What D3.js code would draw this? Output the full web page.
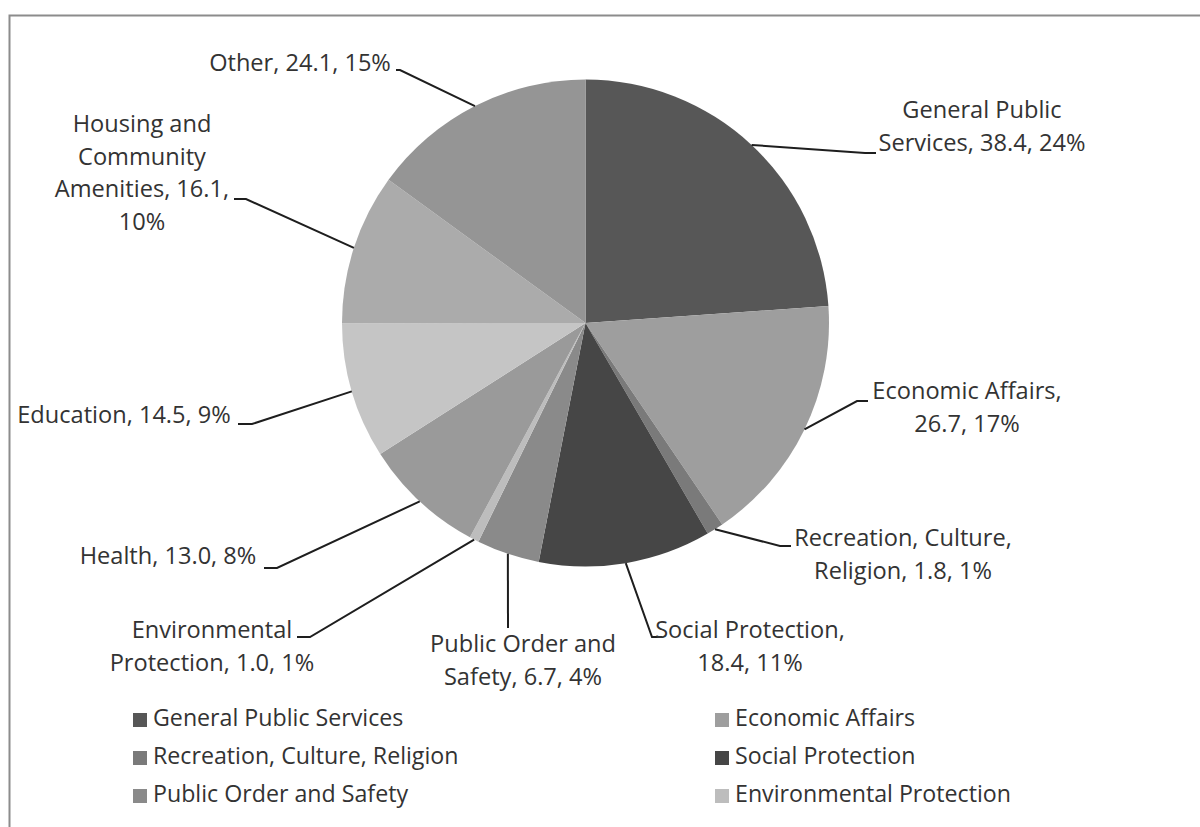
<!DOCTYPE html>
<html>
<head>
<meta charset="utf-8">
<script src="https://cdn.jsdelivr.net/npm/d3@7"></script>
<style>
  html, body { margin: 0; padding: 0; background: #fff; }
  svg { display: block; }
  text { font-family: "Open Sans", "Noto Sans", sans-serif; fill: #333; font-variant-ligatures: none; }
</style>
</head>
<body>
<svg id="chart" width="1200" height="827"></svg>
<script>
// Government spending by function (values and shares)
const categories = [
  "General Public Services", "Economic Affairs", "Recreation, Culture, Religion",
  "Social Protection", "Public Order and Safety", "Environmental Protection",
  "Health", "Education", "Housing and Community Amenities", "Other"
];
const values = [38.4, 26.7, 1.8, 18.4, 6.7, 1.0, 13.0, 14.5, 16.1, 24.1];
const percents = [24, 17, 1, 11, 4, 1, 8, 9, 10, 15];
const shades = ["#575757", "#9e9e9e", "#7a7a7a", "#464646", "#8a8a8a",
                "#bdbdbd", "#9a9a9a", "#c5c5c5", "#ababab", "#959595"];

// Label text lines per slice
const labelLines = [
  ["General Public", "Services, 38.4, 24%"],
  ["Economic Affairs,", "26.7, 17%"],
  ["Recreation, Culture,", "Religion, 1.8, 1%"],
  ["Social Protection,", "18.4, 11%"],
  ["Public Order and", "Safety, 6.7, 4%"],
  ["Environmental", "Protection, 1.0, 1%"],
  ["Health, 13.0, 8%"],
  ["Education, 14.5, 9%"],
  ["Housing and", "Community", "Amenities, 16.1,", "10%"],
  ["Other, 24.1, 15%"]
];
// Label placement: text anchor point, anchor, and leader elbow
const labelLayout = [
  {x: 982, y: 112, anchor: "middle", elbow: [865, 153], end: [876, 153]},
  {x: 967, y: 393, anchor: "middle", elbow: [857, 401], end: [868, 401]},
  {x: 903, y: 540, anchor: "middle", elbow: [780, 546], end: [791, 546]},
  {x: 750, y: 632, anchor: "middle", elbow: [652, 637], end: [662, 637]},
  {x: 523, y: 646, anchor: "middle", elbow: [508, 628], end: [508, 628]},
  {x: 212, y: 632, anchor: "middle", elbow: [310, 637], end: [297, 637]},
  {x: 168, y: 558, anchor: "middle", elbow: [277, 568], end: [264, 568]},
  {x: 124, y: 417, anchor: "middle", elbow: [252, 424], end: [238, 424]},
  {x: 142, y: 126, anchor: "middle", elbow: [246, 199], end: [234, 199]},
  {x: 300, y: 65,  anchor: "middle", elbow: [400, 70], end: [396, 70]}
];

const legendItems = categories.slice(0, 6);

const svg = d3.select("#chart");

// Frame border (top and left visible)
svg.append("rect")
  .attr("x", 9.5).attr("y", 15.5)
  .attr("width", 1250).attr("height", 900)
  .attr("fill", "none").attr("stroke", "#8c8c8c").attr("stroke-width", 2);

const cx = 585.5, cy = 323, r = 243.5;
const data = categories.map((c, i) => ({name: c, value: values[i], i}));
const pie = d3.pie().value(d => d.value).sort(null);
const arcs = pie(data);
const arc = d3.arc().innerRadius(0).outerRadius(r);

const g = svg.append("g").attr("transform", `translate(${cx},${cy})`);
g.selectAll("path.slice")
  .data(arcs)
  .join("path")
  .attr("class", "slice")
  .attr("d", arc)
  .attr("fill", d => shades[d.data.i])
  .attr("stroke", "none");

// Leader lines from slice edge midpoint to labels
const leaders = svg.append("g");
arcs.forEach((a, i) => {
  const mid = (a.startAngle + a.endAngle) / 2;
  const sx = cx + r * Math.sin(mid);
  const sy = cy - r * Math.cos(mid);
  const L = labelLayout[i];
  leaders.append("polyline")
    .attr("points", [[sx, sy], L.elbow, L.end].map(p => p.join(",")).join(" "))
    .attr("fill", "none").attr("stroke", "#1e1e1e").attr("stroke-width", 2);
});

// Data labels
const labels = svg.append("g").attr("font-size", 23.6);
labelLines.forEach((lines, i) => {
  const L = labelLayout[i];
  const t = labels.append("text")
    .attr("text-anchor", L.anchor)
    .attr("dominant-baseline", "middle");
  lines.forEach((ln, k) => {
    t.append("tspan").attr("x", L.x).attr("y", L.y + k * 32.5).text(ln);
  });
});

// Legend (two columns)
const legendX = d3.scalePoint().domain([0, 1]).range([133, 715]);
const legendY = d3.scalePoint().domain([0, 1, 2]).range([720, 796]);
const leg = svg.append("g");
legendItems.forEach((name, i) => {
  const col = i % 2, row = Math.floor(i / 2);
  const x = legendX(col), y = legendY(row);
  leg.append("rect")
    .attr("x", x).attr("y", y - 7).attr("width", 14).attr("height", 14)
    .attr("fill", shades[i]);
  leg.append("text")
    .attr("x", x + 20).attr("y", y)
    .attr("dominant-baseline", "middle")
    .attr("font-size", 23.2)
    .text(name);
});
</script>
</body>
</html>
